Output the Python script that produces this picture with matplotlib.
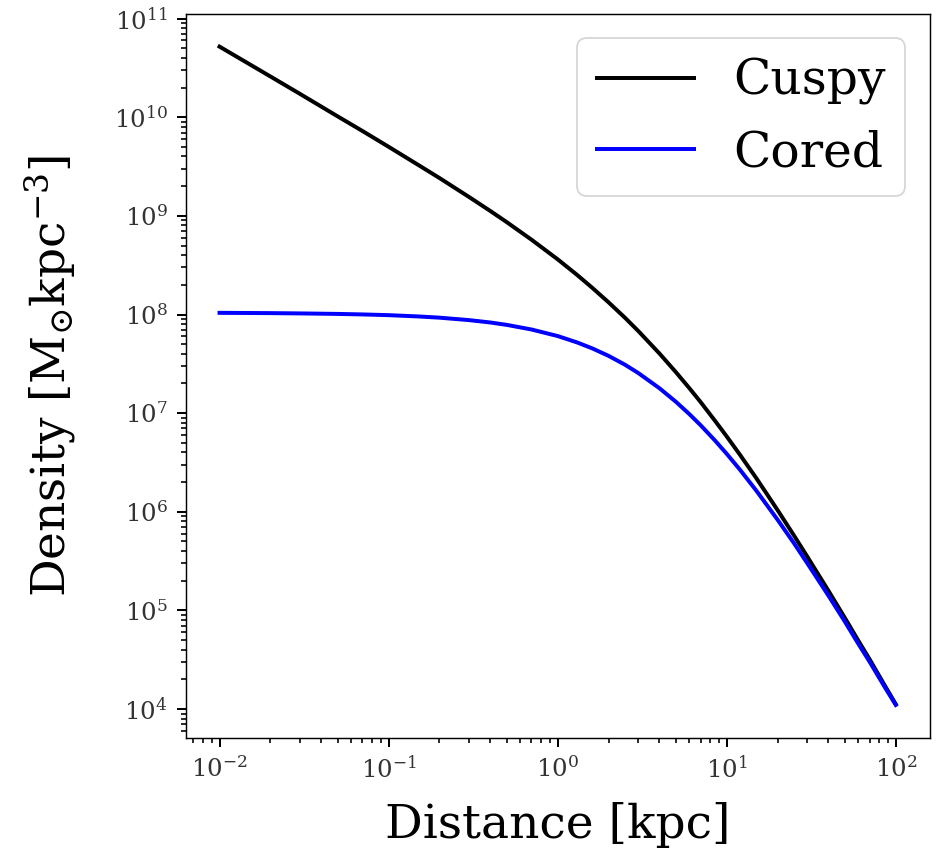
import matplotlib
matplotlib.use("Agg")
import matplotlib.pyplot as plt

plt.rcParams['font.family'] = 'DejaVu Serif'
plt.rcParams['mathtext.fontset'] = 'dejavuserif'

# distance in kpc
distance = [0.01, 0.015, 0.02, 0.03, 0.05, 0.07, 0.1, 0.15, 0.2, 0.3, 0.4,
            0.5, 0.7, 1, 1.3, 1.6, 2, 2.5, 3, 4, 5, 6, 7, 8.5, 10, 12, 15,
            20, 25, 30, 40, 50, 60, 70, 85, 100]

# densities (Msun / kpc^3)
cuspy = [5.2e10, 3.46e10, 2.59e10, 1.72e10, 1.02e10, 7.26e9, 5.02e9, 3.28e9,
         2.42e9, 1.55e9, 1.12e9, 8.64e8, 5.74e8, 3.63e8, 2.53e8, 1.87e8,
         1.33e8, 9.29e7, 6.8e7, 4.03e7, 2.61e7, 1.8e7, 1.3e7, 8.43e6,
         5.81e6, 3.77e6, 2.18e6, 1.04e6, 5.75e5, 3.5e5, 1.58e5, 8.4e4,
         4.95e4, 3.2e4, 1.8e4, 1.12e4]
cored = [1.04e8, 1.036e8, 1.033e8, 1.026e8, 1.014e8, 1.002e8, 9.85e7, 9.56e7,
         9.29e7, 8.77e7, 8.3e7, 7.85e7, 7.05e7, 6.05e7, 5.22e7, 4.54e7,
         3.81e7, 3.1e7, 2.55e7, 1.79e7, 1.306e7, 9.81e6, 7.56e6, 5.31e6,
         3.87e6, 2.66e6, 1.63e6, 8.3e5, 4.8e5, 3.0e5, 1.41e5, 7.7e4,
         4.6e4, 3.02e4, 1.73e4, 1.1e4]

fig = plt.figure(figsize=(938/130, 857/130), dpi=130)
ax = fig.add_axes([0.198, 0.139, 0.793, 0.845])

ax.plot(distance, cuspy, color='black', lw=2.2, label='Cuspy')
ax.plot(distance, cored, color='blue', lw=2.2, label='Cored')
ax.set_xscale('log')
ax.set_yscale('log')

ax.tick_params(which='major', labelsize=13.5, length=5, width=1.1, pad=5, labelcolor='#333333')
ax.tick_params(which='minor', length=3, width=0.9)

ax.set_xlabel('Distance [kpc]', fontsize=26)
ax.set_ylabel(r'Density [M$_{\odot}$kpc$^{-3}$]', fontsize=26)
ax.xaxis.set_label_coords(0.5, -0.088)
ax.yaxis.set_label_coords(-0.144, 0.5)
ax.legend(fontsize=27, loc='upper right')

fig.savefig('out.png', dpi=130)
